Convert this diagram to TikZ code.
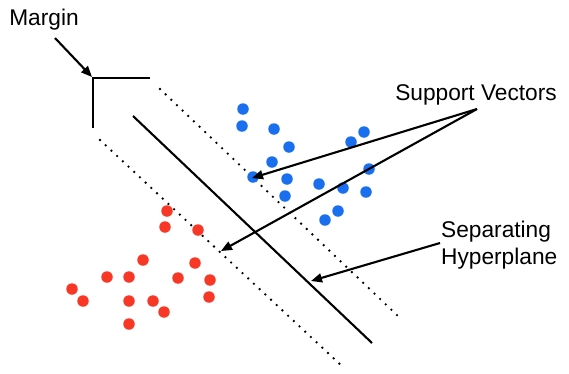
\documentclass[tikz,border=0pt]{standalone}
\usepackage{fontspec}
\setmainfont{Liberation Sans}
\usetikzlibrary{arrows.meta}
\definecolor{svblue}{RGB}{26,111,239}
\definecolor{svred}{RGB}{248,56,38}
\begin{document}
\begin{tikzpicture}[x=1pt,y=-1pt,
  solidline/.style={line width=2.1pt},
  dotline/.style={line width=2.6pt,line cap=round,dash pattern=on 0pt off 7.8pt},
  arr/.style={line width=2.1pt,-{Triangle[length=11pt,width=9pt]}},
  lbl/.style={font=\fontsize{22.7}{27}\selectfont,inner sep=0pt},
  bdot/.style={circle,fill=svblue,inner sep=0pt,minimum size=11.5pt},
  rdot/.style={circle,fill=svred,inner sep=0pt,minimum size=11.5pt}]
\useasboundingbox (0,0) rectangle (569,373);
% lines
\coordinate (u1) at (160,89); \coordinate (u2) at (400,318);
\coordinate (h1) at (133,116); \coordinate (h2) at (372,343);
\coordinate (l1) at (100,140); \coordinate (l2) at (343,367);
\draw[dotline] (u1) -- (u2);
\draw[solidline] (h1) -- (h2);
\draw[dotline] (l1) -- (l2);
% margin bracket
\coordinate (mc) at (93,78);
\coordinate (mh) at (150,78);
\coordinate (mv) at (93,128);
\draw[solidline] (mh) -- (mc) -- (mv);
% blue dots
\foreach \i/\x/\y in {1/243/109,2/242/126,3/274/129,4/289/147,5/272/162,6/253/177,7/287/179,8/285/196,9/319/184,10/343/188,11/351/142,12/364/132,13/369/169,14/366/192,15/338/211,16/325/220}
  \node[bdot] (b\i) at (\x,\y) {};
% red dots
\foreach \i/\x/\y in {1/167/211,2/165/227,3/198/230,4/143/260,5/195/263,6/107/277,7/129/277,8/178/278,9/210/280,10/72/289,11/83/301,12/129/301,13/153/301,14/209/297,15/164/312,16/129/324}
  \node[rdot] (r\i) at (\x,\y) {};
% labels
\node[lbl] (margin) at (44,20) {Margin};
\node[lbl] (sv) at (476,95) {Support Vectors};
\node[lbl,align=left,anchor=west] (sh) at (441,245) {Separating\\Hyperplane};
% arrows
\coordinate (ms) at (55,38);
\coordinate (mt) at (92,77);
\draw[arr] (ms) -- (mt);
\coordinate (svs) at (477,109);
\coordinate (svt1) at (252,178);
\coordinate (svt2) at (221,251);
\draw[arr] (svs) -- (svt1);
\draw[arr] (svs) -- (svt2);
\coordinate (shs) at (440,243);
\coordinate (sht) at (311,281);
\draw[arr] (shs) -- (sht);
\end{tikzpicture}
\end{document}
